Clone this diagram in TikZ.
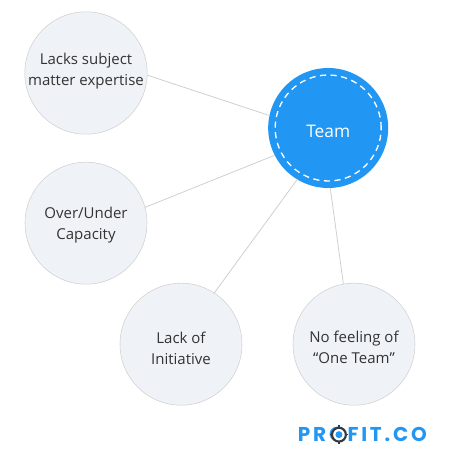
\documentclass[tikz,border=0pt]{standalone}
\usepackage{fontspec}
\setmainfont{Open Sans}
\newfontfamily\logofont[LetterSpace=14]{Poppins}
\usetikzlibrary{positioning}
\definecolor{bubblefill}{HTML}{EFF3F8}
\definecolor{bubbleline}{HTML}{CFCFCF}
\definecolor{teamblue}{HTML}{2196F3}
\definecolor{logodark}{HTML}{333A42}
\newcommand{\dropline}[1]{\rule{0pt}{#1}}

\begin{document}
\begin{tikzpicture}[
    x=0.75pt,
    y=0.75pt,
    bubble/.style={
        draw=bubbleline,
        circle,
        minimum size=91.5pt,
        inner sep=0pt,
        outer sep=0pt,
        fill=bubblefill,
        text=black!80,
        align=center,
        font=\fontsize{11.25}{15.75}\selectfont
    },
    team/.style={
        circle,
        minimum size=90pt,
        inner sep=0pt,
        outer sep=0pt,
        fill=teamblue,
        text=white,
        font=\fontsize{13}{15.75}\selectfont
    },
    ring/.style={
        draw=white,
        circle,
        dashed,
        dash pattern=on 4.6pt off 3.4pt,
        line width=1pt,
        minimum size=79.5pt,
        inner sep=0pt
    },
    link/.style={
        draw=bubbleline,
        line width=0.6pt
    },
    logo/.style={
        text=teamblue,
        inner sep=0pt,
        font=\logofont\bfseries\fontsize{15}{16}\selectfont
    }
]
\useasboundingbox (-86,-388) rectangle (364,73);

% Left column
\node[bubble, text depth=5.7pt] (lacks) {Lacks subject\\matter expertise};
\node[bubble, below=21pt of lacks] (over) {\dropline{11.5pt}Over/Under\\Capacity};

% Bottom row
\node[bubble, below=-0.75pt of over, xshift=71.25pt] (initiative) {\dropline{15.3pt}Lack of\\Initiative};
\node[bubble, right=38.25pt of initiative] (feeling) {\dropline{13pt}No feeling of\\“One Team”};

% Team
\node[team, right=90.75pt of lacks, yshift=-41.25pt] (main) {\dropline{14pt}Team};
\node[ring] (mainring) at (main) {};

\draw[link] (lacks.-2) -- (main.168);
\draw[link] (over.15) -- (main.207);
\draw[link] (initiative.57) -- (main.239);
\draw[link] (feeling.100) -- (main.272);

% Logo
\node[logo, below=16.5pt of feeling, xshift=6.25pt] (profit) {PROFIT.CO};
\coordinate[right=31pt of profit.west] (target);
\draw[logodark, line width=1.6pt, fill=white] (target) circle (5.2pt);
\fill[teamblue] (target) circle (2.6pt);
\foreach \a in {0,90,180,270}
    \draw[logodark, line width=1.2pt] (target) ++(\a:5pt) -- ++(\a:2pt);

\end{tikzpicture}
\end{document}
